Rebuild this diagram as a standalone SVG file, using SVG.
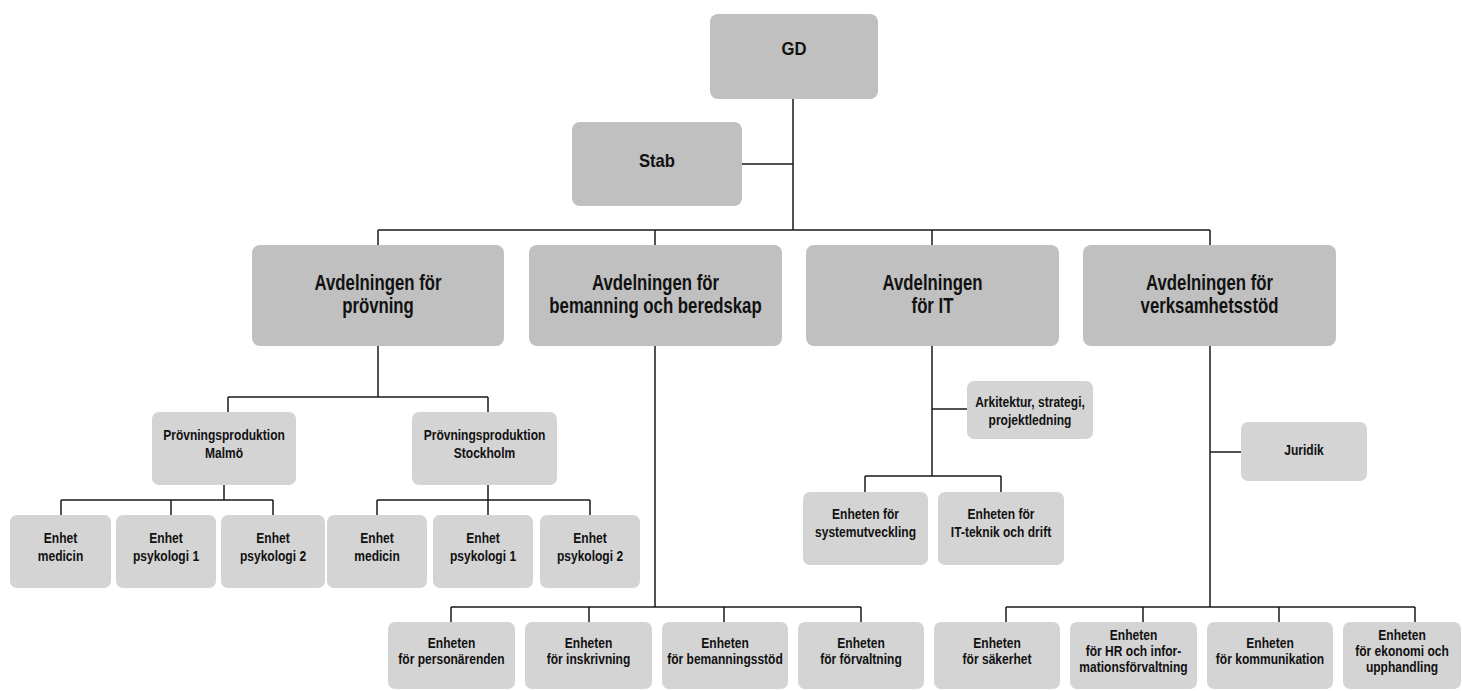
<svg xmlns="http://www.w3.org/2000/svg" width="1462" height="691" viewBox="0 0 1462 691">
<style>
.d{fill:#c0c0c0}
.l{fill:#d4d4d4}
text{font-family:"Liberation Sans",Arial,sans-serif;font-weight:bold;fill:#111;text-anchor:middle}
.t1{font-size:18.5px}
.t2{font-size:21.5px}
.t3{font-size:14px}
.c{fill:none;stroke:#1a1a1a;stroke-width:1.5}
</style>
<rect width="1462" height="691" fill="#fff"/>
<g id="connectors" class="c">
<path d="M793 98V230M742 164H793M378 230H1210M378 230V246M655 230V246M932 230V246M1210 230V246"/>
<path d="M378 346V397M228 397H488M228 397V412M488 397V412"/>
<path d="M224 485V500M61 500H273M61 500V515M171 500V515M273 500V515"/>
<path d="M488 485V500M377 500H590M377 500V515M488 500V515M590 500V515"/>
<path d="M655 346V607M451 607H861M451 607V622M589 607V622M724 607V622M861 607V622"/>
<path d="M932 346V476M932 409H967M865 476H1001M865 476V492M1001 476V492"/>
<path d="M1210 346V607M1210 452H1241M1006 607H1415M1006 607V622M1143 607V622M1279 607V622M1415 607V622"/>
</g>
<g id="gd"><rect class="d" x="710" y="14" width="168" height="85" rx="8"/><g transform="translate(794 0) scale(.9 1)"><text class="t1" x="0" y="55">GD</text></g></g>
<g id="stab"><rect class="d" x="572" y="122" width="170" height="84" rx="8"/><g transform="translate(657 0) scale(.9 1)"><text class="t1" x="0" y="167">Stab</text></g></g>
<g id="avd-provning"><rect class="d" x="252" y="245" width="252" height="101" rx="8"/><g transform="translate(378 0) scale(.78 1)"><text class="t2" x="0" y="290">Avdelningen för</text><text class="t2" x="0" y="313">prövning</text></g></g>
<g id="avd-bemanning"><rect class="d" x="529" y="245" width="253" height="101" rx="8"/><g transform="translate(655.5 0) scale(.78 1)"><text class="t2" x="0" y="290">Avdelningen för</text><text class="t2" x="0" y="313">bemanning och beredskap</text></g></g>
<g id="avd-it"><rect class="d" x="806" y="245" width="253" height="101" rx="8"/><g transform="translate(932.5 0) scale(.78 1)"><text class="t2" x="0" y="290">Avdelningen</text><text class="t2" x="0" y="313">för IT</text></g></g>
<g id="avd-verksamhetsstod"><rect class="d" x="1083" y="245" width="253" height="101" rx="8"/><g transform="translate(1209.5 0) scale(.78 1)"><text class="t2" x="0" y="290">Avdelningen för</text><text class="t2" x="0" y="313">verksamhetsstöd</text></g></g>
<g id="pp-malmo"><rect class="l" x="152" y="412" width="144" height="73" rx="7"/><g transform="translate(224 0) scale(.86 1)"><text class="t3" x="0" y="440">Prövningsproduktion</text><text class="t3" x="0" y="458">Malmö</text></g></g>
<g id="pp-stockholm"><rect class="l" x="412" y="412" width="145" height="73" rx="7"/><g transform="translate(484.5 0) scale(.86 1)"><text class="t3" x="0" y="440">Prövningsproduktion</text><text class="t3" x="0" y="458">Stockholm</text></g></g>
<g id="m-medicin"><rect class="l" x="10" y="515" width="101" height="73" rx="7"/><g transform="translate(60.5 0) scale(.86 1)"><text class="t3" x="0" y="543">Enhet</text><text class="t3" x="0" y="561">medicin</text></g></g>
<g id="m-psyk1"><rect class="l" x="116" y="515" width="100" height="73" rx="7"/><g transform="translate(166 0) scale(.86 1)"><text class="t3" x="0" y="543">Enhet</text><text class="t3" x="0" y="561">psykologi 1</text></g></g>
<g id="m-psyk2"><rect class="l" x="221" y="515" width="104" height="73" rx="7"/><g transform="translate(273 0) scale(.86 1)"><text class="t3" x="0" y="543">Enhet</text><text class="t3" x="0" y="561">psykologi 2</text></g></g>
<g id="s-medicin"><rect class="l" x="327" y="515" width="100" height="73" rx="7"/><g transform="translate(377 0) scale(.86 1)"><text class="t3" x="0" y="543">Enhet</text><text class="t3" x="0" y="561">medicin</text></g></g>
<g id="s-psyk1"><rect class="l" x="433" y="515" width="100" height="73" rx="7"/><g transform="translate(483 0) scale(.86 1)"><text class="t3" x="0" y="543">Enhet</text><text class="t3" x="0" y="561">psykologi 1</text></g></g>
<g id="s-psyk2"><rect class="l" x="540" y="515" width="100" height="73" rx="7"/><g transform="translate(590 0) scale(.86 1)"><text class="t3" x="0" y="543">Enhet</text><text class="t3" x="0" y="561">psykologi 2</text></g></g>
<g id="arkitektur"><rect class="l" x="967" y="381" width="126" height="58" rx="7"/><g transform="translate(1030 0) scale(.86 1)"><text class="t3" x="0" y="407">Arkitektur, strategi,</text><text class="t3" x="0" y="425">projektledning</text></g></g>
<g id="systemutveckling"><rect class="l" x="803" y="492" width="125" height="73" rx="7"/><g transform="translate(865.5 0) scale(.86 1)"><text class="t3" x="0" y="519">Enheten för</text><text class="t3" x="0" y="537">systemutveckling</text></g></g>
<g id="itteknik"><rect class="l" x="938" y="492" width="126" height="73" rx="7"/><g transform="translate(1001 0) scale(.86 1)"><text class="t3" x="0" y="519">Enheten för</text><text class="t3" x="0" y="537">IT-teknik och drift</text></g></g>
<g id="juridik"><rect class="l" x="1241" y="422" width="126" height="59" rx="7"/><g transform="translate(1304 0) scale(.86 1)"><text class="t3" x="0" y="455">Juridik</text></g></g>
<g id="personarenden"><rect class="l" x="388" y="622" width="127" height="67" rx="7"/><g transform="translate(451.5 0) scale(.86 1)"><text class="t3" x="0" y="648">Enheten</text><text class="t3" x="0" y="664">för personärenden</text></g></g>
<g id="inskrivning"><rect class="l" x="525" y="622" width="127" height="67" rx="7"/><g transform="translate(588.5 0) scale(.86 1)"><text class="t3" x="0" y="648">Enheten</text><text class="t3" x="0" y="664">för inskrivning</text></g></g>
<g id="bemanningsstod"><rect class="l" x="662" y="622" width="126" height="67" rx="7"/><g transform="translate(725 0) scale(.86 1)"><text class="t3" x="0" y="648">Enheten</text><text class="t3" x="0" y="664">för bemanningsstöd</text></g></g>
<g id="forvaltning"><rect class="l" x="798" y="622" width="126" height="67" rx="7"/><g transform="translate(861 0) scale(.86 1)"><text class="t3" x="0" y="648">Enheten</text><text class="t3" x="0" y="664">för förvaltning</text></g></g>
<g id="sakerhet"><rect class="l" x="934" y="622" width="126" height="67" rx="7"/><g transform="translate(997 0) scale(.86 1)"><text class="t3" x="0" y="648">Enheten</text><text class="t3" x="0" y="664">för säkerhet</text></g></g>
<g id="hr"><rect class="l" x="1070" y="622" width="127" height="67" rx="7"/><g transform="translate(1133.5 0) scale(.86 1)"><text class="t3" x="0" y="640">Enheten</text><text class="t3" x="0" y="656">för HR och infor-</text><text class="t3" x="0" y="672">mationsförvaltning</text></g></g>
<g id="kommunikation"><rect class="l" x="1207" y="622" width="126" height="67" rx="7"/><g transform="translate(1270 0) scale(.86 1)"><text class="t3" x="0" y="648">Enheten</text><text class="t3" x="0" y="664">för kommunikation</text></g></g>
<g id="ekonomi"><rect class="l" x="1343" y="622" width="118" height="67" rx="7"/><g transform="translate(1402 0) scale(.86 1)"><text class="t3" x="0" y="640">Enheten</text><text class="t3" x="0" y="656">för ekonomi och</text><text class="t3" x="0" y="672">upphandling</text></g></g>
</svg>
